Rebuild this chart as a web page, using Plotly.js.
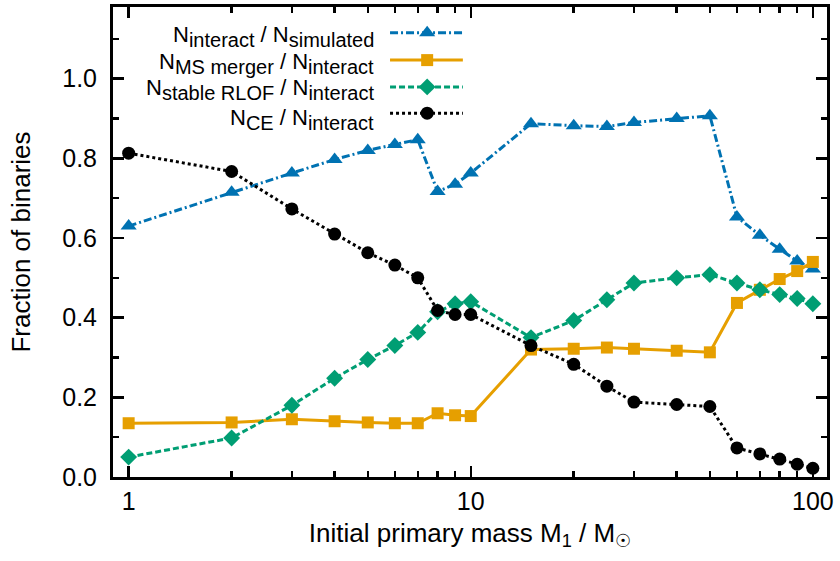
<!DOCTYPE html>
<html>
<head>
<meta charset="utf-8">
<script src="https://cdn.plot.ly/plotly-3.0.1.min.js"></script>
<style>html,body{margin:0;padding:0;background:#fff;}#chart{width:840px;height:561px;}</style>
</head>
<body>
<div id="chart"></div>
<script>
// ---- data ----
const mass = [1, 2, 3, 4, 5, 6, 7, 8, 9, 10, 15, 20, 25, 30, 40, 50, 60, 70, 80, 90, 100];
const fInteract = [0.630, 0.715, 0.763, 0.797, 0.820, 0.835, 0.847, 0.717, 0.735, 0.763, 0.887, 0.882, 0.880, 0.890, 0.900, 0.907, 0.653, 0.607, 0.572, 0.542, 0.522];
const fMerger = [0.135, 0.137, 0.145, 0.140, 0.137, 0.135, 0.135, 0.160, 0.155, 0.153, 0.320, 0.322, 0.325, 0.322, 0.317, 0.313, 0.437, 0.470, 0.497, 0.517, 0.540];
const fRLOF = [0.050, 0.098, 0.180, 0.248, 0.295, 0.330, 0.363, 0.415, 0.435, 0.440, 0.350, 0.393, 0.445, 0.487, 0.500, 0.508, 0.487, 0.470, 0.458, 0.448, 0.435];
const fCE = [0.813, 0.767, 0.673, 0.610, 0.563, 0.532, 0.500, 0.418, 0.408, 0.408, 0.330, 0.283, 0.228, 0.188, 0.182, 0.177, 0.073, 0.058, 0.045, 0.032, 0.022];
const labelParts = [
  ['interact', 'simulated'],
  ['MS merger', 'interact'],
  ['stable RLOF', 'interact'],
  ['CE', 'interact']
];
const xTickVals = [1, 10, 100];
const xTickText = ['1', '10', '100'];

// ---- styles ----
const FONT = 'Liberation Sans, Arial, Helvetica, sans-serif';
const SUB = s => '<sub><span style="font-size:20px">' + s + '</span></sub>';
const styles = [
  {color: '#0072B2', dash: '8px,3px,2px,3px', symbol: 'triangle-up', size: 14},
  {color: '#E69F00', dash: 'solid', symbol: 'square', size: 12},
  {color: '#009E73', dash: '6px,3px', symbol: 'diamond', size: 13},
  {color: '#000000', dash: '3px,3px', symbol: 'circle', size: 13}
];
const seriesY = [fInteract, fMerger, fRLOF, fCE];

const traces = [];
seriesY.forEach((ys, i) => {
  const s = styles[i];
  traces.push({
    x: mass, y: ys, type: 'scatter', mode: 'lines+markers',
    line: {color: s.color, width: 3, dash: s.dash},
    marker: {color: s.color, symbol: s.symbol, size: s.size},
    showlegend: false, hoverinfo: 'skip'
  });
});

// custom legend (text on left, sample on right) drawn on hidden overlay axes [0,1]
const legX0 = 0.388, legX1 = 0.490, legXm = 0.440;
const legRowsY = [0.945, 0.887, 0.830, 0.774];
const legTextDy = [-0.008, -0.008, -0.006, -0.014];
const legTextX = 0.367;
const annotations = [];
labelParts.forEach((p, i) => {
  const s = styles[i];
  traces.push({
    x: [legX0, legX1], y: [legRowsY[i], legRowsY[i]], xaxis: 'x2', yaxis: 'y2',
    type: 'scatter', mode: 'lines', line: {color: s.color, width: 3, dash: s.dash},
    showlegend: false, hoverinfo: 'skip'
  });
  traces.push({
    x: [legXm], y: [legRowsY[i]], xaxis: 'x2', yaxis: 'y2',
    type: 'scatter', mode: 'markers', marker: {color: s.color, symbol: s.symbol, size: s.size},
    showlegend: false, hoverinfo: 'skip'
  });
  annotations.push({
    xref: 'paper', yref: 'paper', x: legTextX, y: legRowsY[i] + legTextDy[i],
    xanchor: 'right', yanchor: 'middle', showarrow: false, align: 'right', borderpad: 0,
    text: 'N' + SUB(p[0]) + ' / N' + SUB(p[1]),
    font: {family: FONT, size: 22, color: '#000'}
  });
});

const layout = {
  width: 840, height: 561,
  margin: {l: 113, r: 13, t: 7, b: 84},
  paper_bgcolor: '#fff', plot_bgcolor: '#fff',
  font: {family: FONT, size: 25, color: '#000'},
  showlegend: false,
  xaxis: {
    type: 'log', range: [Math.log10(0.9), Math.log10(110)],
    tickvals: xTickVals, ticktext: xTickText,
    ticks: 'inside', ticklen: 11, tickwidth: 2.5, tickcolor: '#000',
    minor: {ticks: 'inside', ticklen: 6, tickwidth: 2.5, tickcolor: '#000', dtick: 'D1'},
    showline: true, linewidth: 3, linecolor: '#000', mirror: 'allticks',
    showgrid: false, zeroline: false,
    tickfont: {family: FONT, size: 25},
    title: {text: 'Initial primary mass M<sub>1</sub> / M<sub>☉</sub>', font: {family: FONT, size: 26}, standoff: 10}
  },
  yaxis: {
    range: [0, 1.18], dtick: 0.2, tick0: 0, tickformat: '.1f',
    ticks: 'inside', ticklen: 11, tickwidth: 2.5, tickcolor: '#000',
    minor: {ticks: 'inside', ticklen: 6, tickwidth: 2.5, tickcolor: '#000', dtick: 0.1},
    showline: true, linewidth: 3, linecolor: '#000', mirror: 'allticks',
    showgrid: false, zeroline: false,
    tickfont: {family: FONT, size: 25},
    ticklabelstandoff: 8,
    title: {text: 'Fraction of binaries', font: {family: FONT, size: 26}, standoff: 25}
  },
  xaxis2: {overlaying: 'x', range: [0, 1], visible: false, fixedrange: true},
  yaxis2: {overlaying: 'y', range: [0, 1], visible: false, fixedrange: true},
  annotations: annotations
};

Plotly.newPlot('chart', traces, layout, {displayModeBar: false, staticPlot: true});
</script>
</body>
</html>
